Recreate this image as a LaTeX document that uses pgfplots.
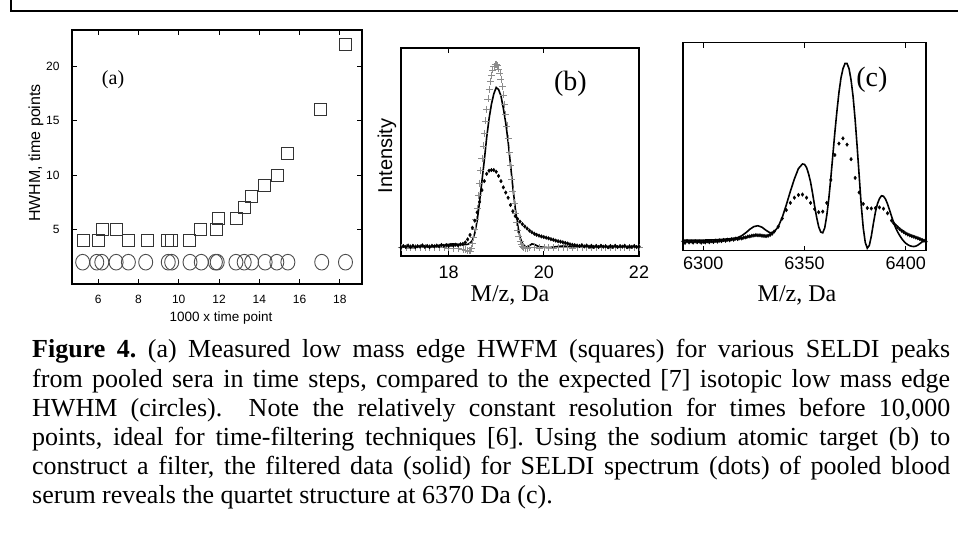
\documentclass[border=0pt]{standalone}
\usepackage{fontspec}
\setmainfont{Liberation Serif}
\newfontfamily\arial{Liberation Sans}
\usepackage{pgfplots}
\pgfplotsset{compat=1.18}
\pgfplotsset{mlab/.style={scale only axis, axis line style={line width=1.1pt}, tick style={line width=0.9pt, black}, major tick length=5pt, tick align=inside, clip=true}}
\frenchspacing
\begin{document}
\begin{tikzpicture}[x=1pt,y=1pt]
\useasboundingbox (0,0) rectangle (958,533);
\draw[line width=1.5pt] (11,533) -- (11,522) -- (958,522);
% ---------- panel (a)
\begin{axis}[mlab, at={(72pt,249pt)}, anchor=south west, width=290pt, height=254pt,
  xmin=4.7, xmax=19.1, ymin=0, ymax=23.3,
  xtick={6,8,10,12,14,16,18}, xticklabels={6,8,10,12,14,16,18},
  ytick={5,10,15,20}, yticklabels={5,10,15,20},
  ticklabel style={font=\arial\fontsize{12}{14}\selectfont},
  xticklabel style={yshift=-8pt}, yticklabel style={xshift=-9pt}]
\addplot[only marks, mark=square, mark size=6pt, color=black!80, mark options={line width=0.9pt}] coordinates {
(5.25,4) (6.0,4) (6.2,5) (6.9,5) (7.5,4) (8.43,4) (9.45,4) (9.65,4) (10.55,4) (11.1,5)
(11.85,5) (11.95,6) (12.87,6) (13.27,7) (13.62,8) (14.26,9) (14.89,10) (15.4,12) (17.05,16) (18.28,22)};
\addplot[only marks, mark=o, mark size=7pt, color=black!70, mark options={line width=0.9pt, yscale=1.12}] coordinates {
(5.23,2) (5.93,2) (6.18,2) (6.89,2) (7.5,2) (8.36,2) (9.48,2) (9.65,2) (10.56,2) (11.12,2)
(11.82,2) (11.91,2) (12.84,2) (13.25,2) (13.62,2) (14.29,2) (14.87,2) (15.42,2) (17.1,2) (18.28,2)};
\node[font=\fontsize{20}{22}\selectfont] at (axis cs:6.74,18.75) {(a)};
\end{axis}
% ---------- panel (b)
\begin{axis}[mlab, at={(401pt,277pt)}, anchor=south west, width=238pt, height=208pt,
  xmin=17, xmax=22, ymin=0, ymax=100,
  xtick={18,20,22}, xticklabels={18,20,22}, ytick=\empty,
  ticklabel style={font=\arial\fontsize{18}{20}\selectfont},
  xticklabel style={yshift=-6pt}]
\addplot[only marks, mark=+, mark size=3.5pt, color=black!45, mark options={line width=0.5pt}] coordinates {
(17.0,4.0) (17.1,4.2) (17.2,3.9) (17.3,4.1) (17.4,4.0) (17.5,4.2) (17.6,4.0) (17.7,4.1) (17.8,4.0) (17.9,4.2)
(18.0,3.9) (18.1,3.8) (18.2,3.6) (18.3,3.3) (18.35,3.0) (18.4,2.7) (18.425,2.5) (18.45,2.5) (18.475,3.5)
(18.5,6) (18.525,9) (18.55,13) (18.575,17.5) (18.6,23) (18.625,29) (18.65,35) (18.675,41) (18.7,47)
(18.725,53) (18.75,59) (18.775,65) (18.8,70.5) (18.825,75.5) (18.85,80) (18.875,84) (18.9,87)
(18.925,89.5) (18.95,91) (18.975,92) (19.0,92) (19.025,91.5) (19.05,90) (19.075,88) (19.1,85)
(19.125,81.5) (19.15,77.5) (19.175,73) (19.2,68) (19.225,62.5) (19.25,56.5) (19.275,50) (19.3,43.5)
(19.325,37) (19.35,31) (19.375,25.5) (19.4,20.5) (19.425,16) (19.45,12.5) (19.475,9.5) (19.5,7.2)
(19.525,5.6) (19.55,4.6) (19.575,4.0) (19.6,3.8) (19.65,3.8) (19.7,4.0) (19.8,4.1) (19.9,3.9)
(20.0,4.0) (20.1,4.2) (20.2,3.9) (20.3,4.1) (20.4,4.0) (20.5,4.2) (20.6,3.9) (20.7,4.1) (20.8,4.0)
(20.9,4.2) (21.0,3.9) (21.1,4.1) (21.2,4.0) (21.3,4.2) (21.4,3.9) (21.5,4.1) (21.6,4.0) (21.7,4.2)
(21.8,3.9) (21.9,4.1) (22.0,4.0)};
\addplot[only marks, mark=diamond*, mark size=1.8pt, color=black] coordinates {
(17.0,4.0) (17.05,4.8) (17.1,4.3) (17.15,5.0) (17.2,4.4) (17.25,4.9) (17.3,4.2) (17.35,4.7) (17.4,4.5)
(17.45,5.1) (17.5,4.4) (17.55,4.8) (17.6,4.3) (17.65,4.9) (17.7,4.6) (17.75,5.0) (17.8,4.7) (17.85,5.3)
(17.9,4.9) (17.95,5.2) (18.0,4.8) (18.05,5.3) (18.1,5.0) (18.15,5.4) (18.2,5.1) (18.25,5.6) (18.3,5.8)
(18.35,6.5) (18.4,8.0) (18.45,10.1) (18.5,13.6) (18.55,17) (18.6,21) (18.65,26) (18.7,31.7) (18.75,36)
(18.8,39.5) (18.85,41) (18.9,41.3) (18.95,41.3) (19.0,40.5) (19.05,38.5) (19.1,36) (19.15,33) (19.2,30.5)
(19.25,28) (19.3,24.5) (19.35,21.5) (19.4,19.2) (19.45,17.8) (19.5,16.5) (19.55,15.3) (19.6,14.2)
(19.65,13.2) (19.7,12.2) (19.75,11.4) (19.8,10.7) (19.85,10.2) (19.9,9.8) (19.95,9.4) (20.0,9.1)
(20.05,8.8) (20.1,8.5) (20.15,8.1) (20.2,7.8) (20.25,7.4) (20.3,7.1) (20.35,6.9) (20.4,6.6) (20.45,6.3)
(20.5,6.0) (20.55,5.6) (20.6,5.4) (20.65,5.2) (20.7,5.0) (20.75,4.8) (20.8,5.2) (20.85,4.6) (20.9,5.0)
(20.95,4.5) (21.0,4.9) (21.05,4.4) (21.1,4.8) (21.15,4.3) (21.2,4.9) (21.25,4.5) (21.3,4.7) (21.35,4.2)
(21.4,4.8) (21.45,4.4) (21.5,4.9) (21.55,4.3) (21.6,4.7) (21.65,4.5) (21.7,4.9) (21.75,4.2) (21.8,4.6)
(21.85,4.4) (21.9,4.8) (21.95,4.3) (22.0,4.6)};
\addplot[black, line width=1.6pt] coordinates {
(17.0,4.3) (17.1,4.6) (17.2,4.2) (17.3,4.5) (17.4,4.4) (17.5,4.7) (17.6,4.5) (17.7,4.8) (17.8,5.0)
(17.9,5.3) (18.0,5.6) (18.1,5.8) (18.2,5.6) (18.3,5.4) (18.4,5.6) (18.45,6.2) (18.5,7.5) (18.55,11)
(18.6,17) (18.65,26) (18.7,36) (18.75,46) (18.8,57) (18.85,66) (18.9,73) (18.95,78) (19.0,81) (19.05,80)
(19.1,77) (19.15,71) (19.2,64) (19.25,55) (19.3,44) (19.35,33) (19.4,23) (19.45,15) (19.5,9) (19.55,6)
(19.6,4.6) (19.65,4.2) (19.7,5.0) (19.75,5.8) (19.8,5.6) (19.85,5.0) (19.9,4.5) (20.0,4.2) (20.1,4.0)
(20.2,4.3) (20.3,4.6) (20.4,4.8) (20.5,4.6) (20.6,4.4) (20.8,4.5) (21.0,4.3) (21.2,4.6) (21.4,4.4)
(21.6,4.5) (21.8,4.3) (22.0,4.5)};
\node[font=\fontsize{28}{30}\selectfont] at (axis cs:20.56,83) {(b)};
\end{axis}
% ---------- panel (c)
\begin{axis}[mlab, at={(683pt,282.3pt)}, anchor=south west, width=243pt, height=208pt,
  xmin=6290, xmax=6410, ymin=0, ymax=100,
  xtick={6300,6350,6400}, xticklabels={6300,6350,6400}, ytick=\empty,
  ticklabel style={font=\arial\fontsize{18}{20}\selectfont},
  xticklabel style={yshift=-3pt}]
\addplot[only marks, mark=diamond*, mark size=1.8pt, color=black] coordinates {
(6290,4.5) (6291,3.8) (6292,4.6) (6293,4.0) (6294,4.4) (6295,3.9) (6296,4.5) (6297,4.1) (6298,4.4)
(6299,3.9) (6300,4.3) (6301,4.0) (6302,4.5) (6303,4.1) (6304,4.6) (6305,4.2) (6306,4.8) (6307,4.4)
(6308,4.9) (6309,4.6) (6310,5.1) (6311,4.8) (6312,5.3) (6313,5.0) (6314,5.5) (6315,5.3) (6316,5.8)
(6317,5.6) (6318,6.0) (6319,5.9) (6320,6.3) (6321,6.4) (6322,6.8) (6323,6.9) (6324,7.2) (6325,7.3)
(6326,7.5) (6327,7.4) (6328,7.4) (6329,7.2) (6330,7.1) (6331,7.0) (6332,7.2) (6333,7.6) (6334,8.2)
(6335,9.2) (6337,11.5) (6339,15.5) (6341,19.5) (6343,23) (6345,25.5) (6347,26.8) (6349,27) (6351,25.5)
(6353,23) (6355,20) (6357,18.5) (6359,18.8) (6361,23) (6363,34) (6365,46) (6367,51.5) (6369,54)
(6371,51) (6373,44) (6375,35) (6377,28) (6379,22.5) (6381,20.5) (6383,20.3) (6385,20.5) (6387,20.8)
(6389,20.2) (6391,18) (6393,14.5) (6394,13.3) (6395,12.2) (6396,11.3) (6397,10.4) (6398,9.6) (6399,9.0)
(6400,8.3) (6401,7.8) (6402,7.4) (6403,7.0) (6404,6.7) (6405,6.3) (6406,6.0) (6407,5.6) (6408,5.2)
(6409,4.8) (6410,4.4)};
\addplot[black, line width=1.6pt] coordinates {
(6290,5.0) (6295,5.0) (6300,5.1) (6305,5.2) (6310,5.5) (6314,5.8) (6317,6.3) (6319,7.2) (6321,8.6)
(6323,10.3) (6325,11.6) (6327,12.0) (6329,11.3) (6331,9.8) (6333,8.6) (6335,9.0) (6337,11.5) (6339,16)
(6341,22) (6343,28.5) (6345,34.5) (6347,39.5) (6349,41.7) (6350,41.5) (6351,40) (6352,37) (6353,33)
(6354,27.5) (6355,21.5) (6356,16) (6357,11.5) (6358,9) (6359,8.6) (6360,11) (6361,17) (6362,25)
(6363,35) (6364,46) (6365,57) (6366,67) (6367,76) (6368,83) (6369,87.5) (6370,90) (6371,90) (6372,87.5)
(6373,82) (6374,74) (6375,63) (6376,50) (6377,36) (6378,22) (6379,11) (6380,4) (6381,1.2) (6382,2.5)
(6383,7) (6384,13) (6385,18.5) (6386,22.5) (6387,25) (6388,26.4) (6389,26.2) (6390,24.8) (6391,22.5)
(6392,19.5) (6393,16.5) (6394,13.5) (6395,11) (6396,9) (6397,7.3) (6398,5.8) (6399,4.6) (6400,3.6)
(6401,2.9) (6402,2.4) (6403,2.1) (6404,2.0) (6405,2.2) (6406,2.7) (6407,3.4) (6408,4.2) (6409,4.8) (6410,5.2)};
\node[font=\fontsize{28}{30}\selectfont] at (axis cs:6383.3,82) {(c)};
\end{axis}
% ---------- labels
\node[rotate=90, font=\arial\fontsize{16}{18}\selectfont] at (36,380) {HWHM, time points};
\node[font=\arial\fontsize{13.5}{15}\selectfont] at (221,215) {1000 x time point};
\node[rotate=90, font=\arial\fontsize{20}{22}\selectfont] at (387,377) {Intensity};
\node[font=\fontsize{24}{26}\selectfont] at (510,238) {M/z, Da};
\node[font=\fontsize{24}{26}\selectfont] at (797,238) {M/z, Da};
% ---------- caption
\begin{scope}[every node/.style={anchor=base west, inner sep=0pt, font=\fontsize{26}{29}\selectfont}]
\node at (32,175) {\makebox[918pt][s]{\textbf{Figure 4.} (a) Measured low mass edge HWFM (squares) for various SELDI peaks}};
\node at (32,146) {\makebox[918pt][s]{from pooled sera in time steps, compared to the expected [7] isotopic low mass edge}};
\node at (32,117) {\makebox[918pt][s]{HWHM (circles).\ \ Note the relatively constant resolution for times before 10,000}};
\node at (32,88) {\makebox[918pt][s]{points, ideal for time-filtering techniques [6]. Using the sodium atomic target (b) to}};
\node at (32,59) {\makebox[918pt][s]{construct a filter, the filtered data (solid) for SELDI spectrum (dots) of pooled blood}};
\node at (32,30) {serum reveals the quartet structure at 6370 Da (c).};
\end{scope}
\end{tikzpicture}
\end{document}
